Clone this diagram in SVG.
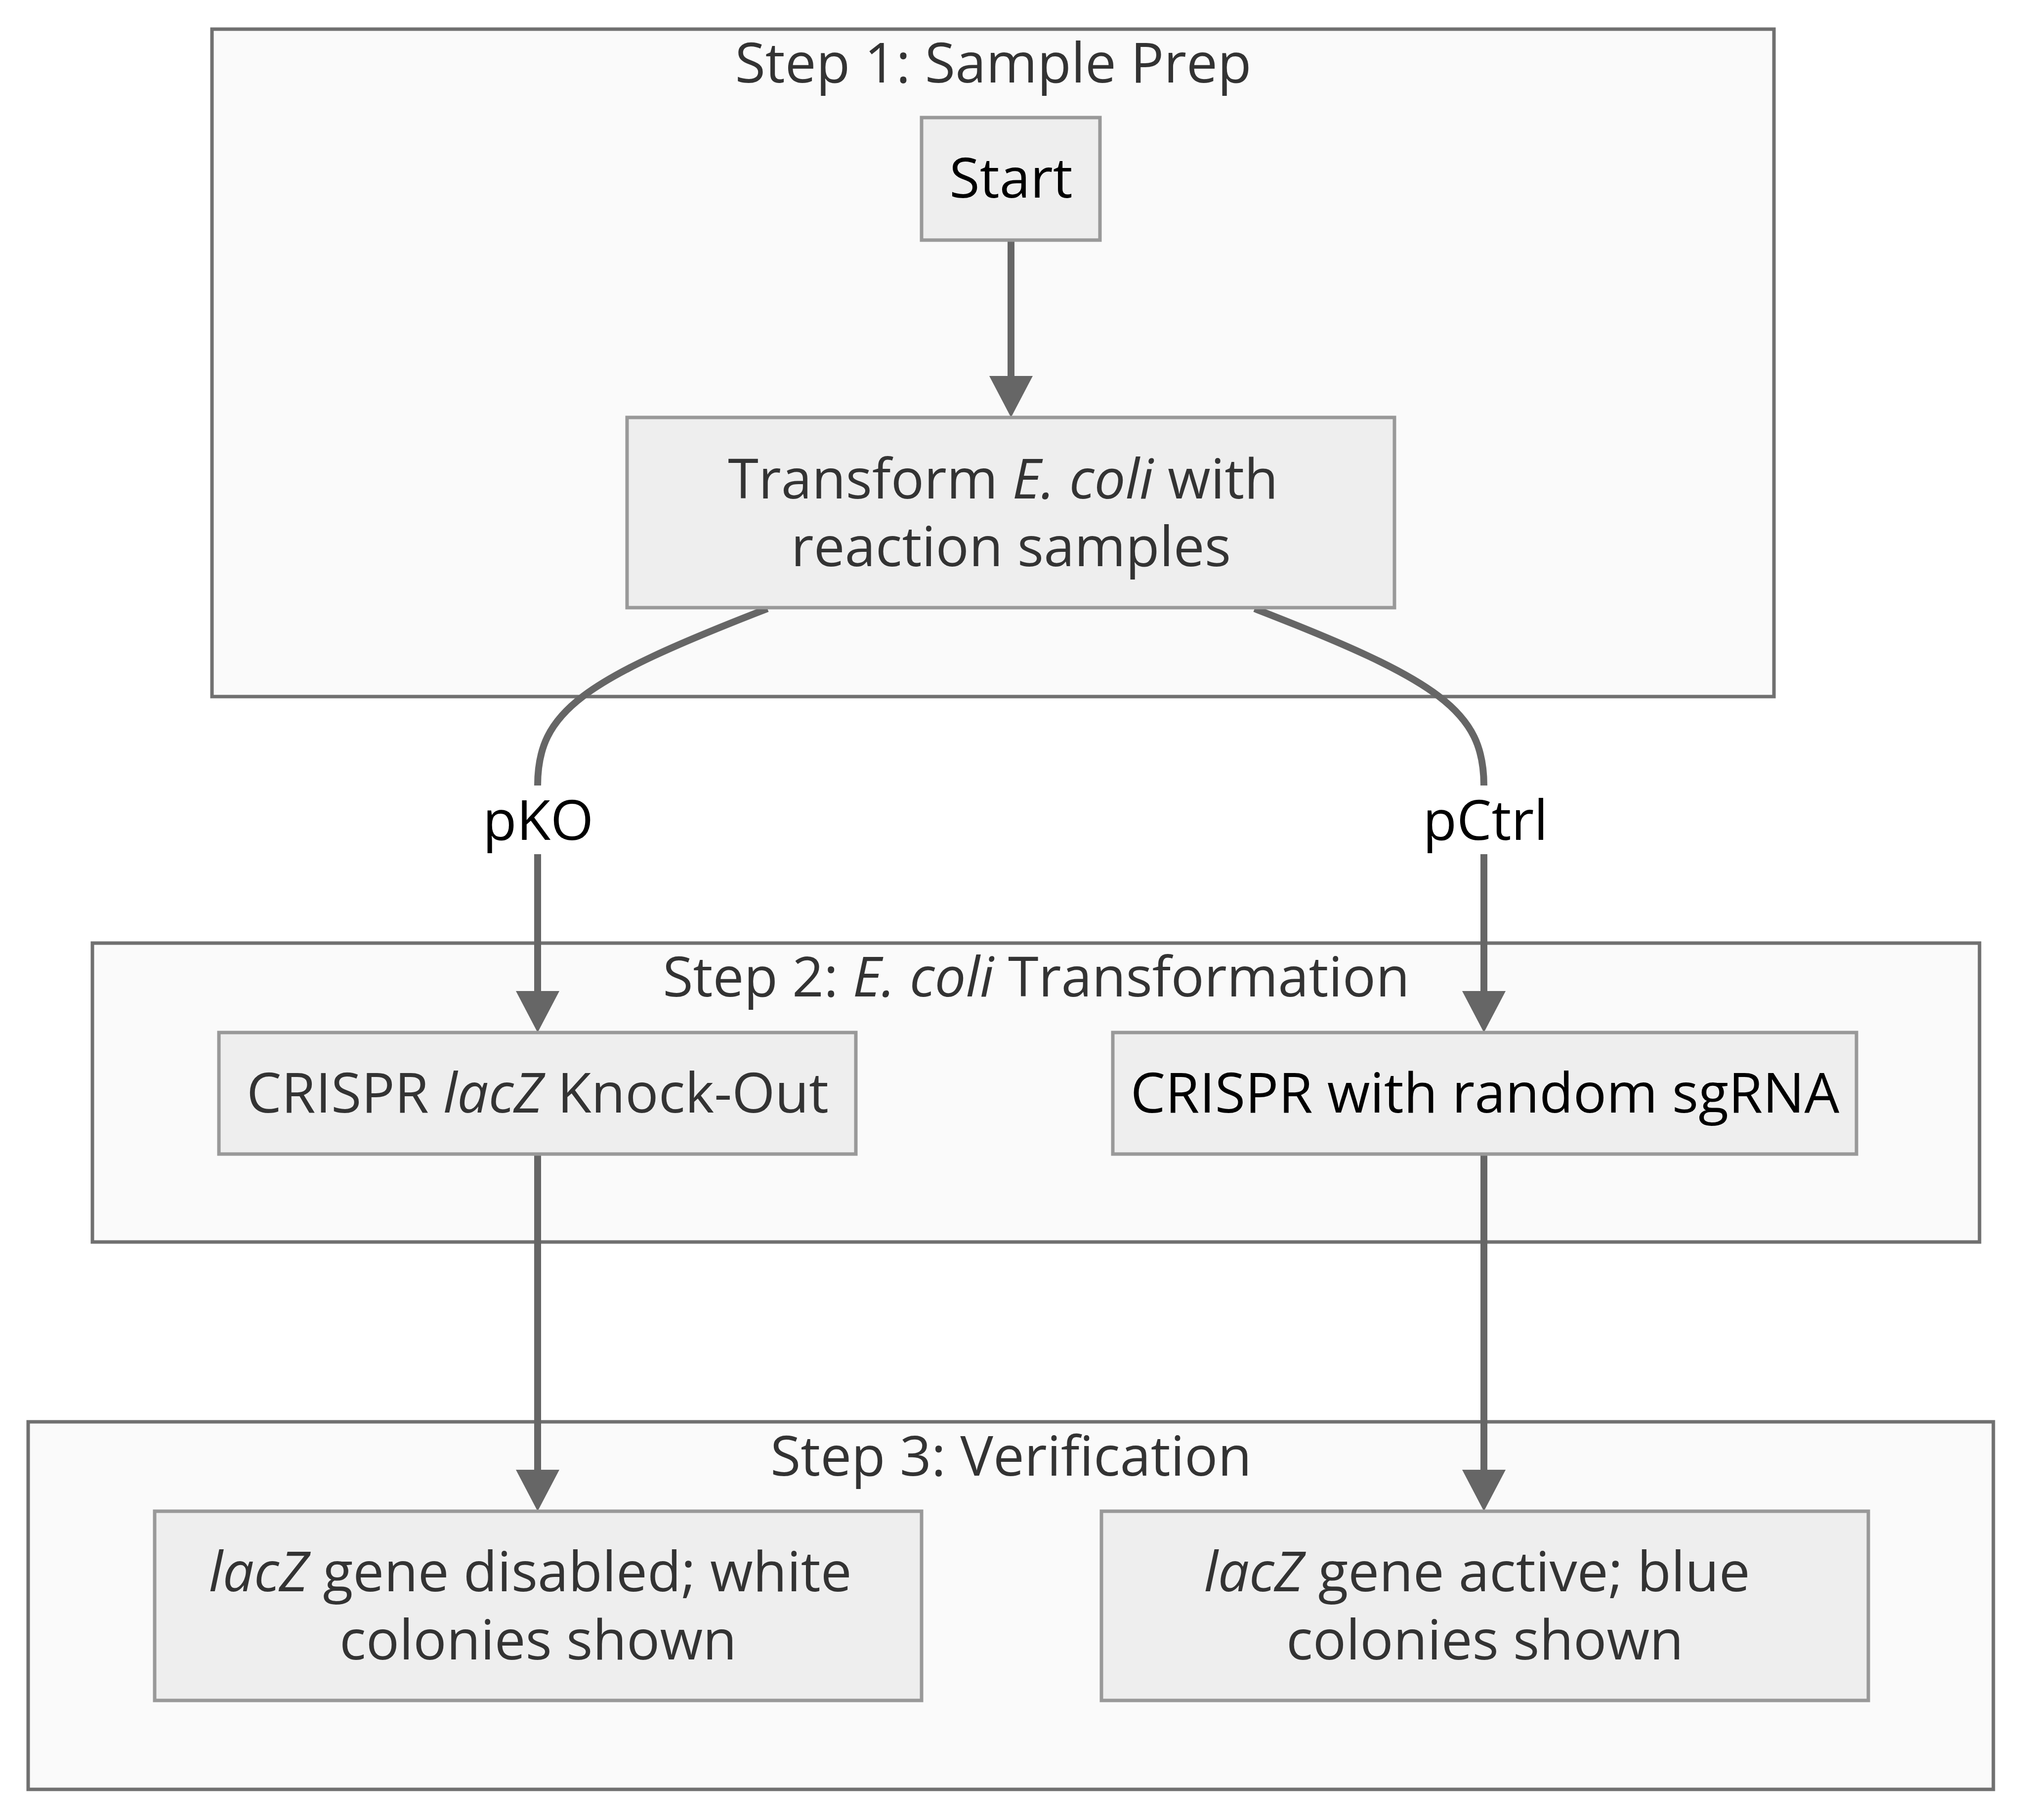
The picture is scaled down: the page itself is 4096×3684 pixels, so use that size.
<svg xmlns="http://www.w3.org/2000/svg" width="4096" height="3684" viewBox="0 0 4096 3684">
<style>
  .cluster rect { fill: #fafafa; stroke: #707070; stroke-width: 7; }
  .node rect { fill: #eeeeee; stroke: #999999; stroke-width: 7; }
  text { font-family: "Open Sans", "Liberation Sans", sans-serif; font-size: 112px; text-anchor: middle; fill: #333333; }
  text.dark { fill: #000000; }
  .it { font-style: italic; }
  .edge { fill: none; stroke: #666666; stroke-width: 14; marker-end: url(#arrow); }
  .lblbg { fill: #ffffff; stroke: none; }
</style>
<defs>
  <marker id="arrow" viewBox="0 0 84 88" refX="0" refY="44" markerWidth="84" markerHeight="88" markerUnits="userSpaceOnUse" orient="auto">
    <path d="M0,0 L84,44 L0,88 Z" fill="#666666"/>
  </marker>
</defs>
<rect x="0" y="0" width="4096" height="3684" fill="#ffffff"/>

<g id="cluster-step1" class="cluster">
  <rect x="429" y="59" width="3161" height="1351"/>
  <text x="2010" y="167">Step 1: Sample Prep</text>
</g>
<g id="cluster-step2" class="cluster">
  <rect x="187" y="1909" width="3819" height="605"/>
  <text x="2097" y="2017">Step 2: <tspan class="it">E. coli</tspan> Transformation</text>
</g>
<g id="cluster-step3" class="cluster">
  <rect x="57" y="2878" width="3977" height="744"/>
  <text x="2046" y="2987">Step 3: Verification</text>
</g>

<g id="connectors">
  <path class="edge" d="M2046,486 L2046,761"/>
  <path class="edge" d="M1553,1232 C1179,1377 1088,1440 1088,1590 L1088,2006"/>
  <path class="edge" d="M2539,1232 C2913,1377 3003,1440 3003,1590 L3003,2006"/>
  <path class="edge" d="M1088,2336 L1088,2975"/>
  <path class="edge" d="M3003,2336 L3003,2975"/>
  <g id="label-pKO">
    <rect class="lblbg" x="986" y="1590" width="206" height="139"/>
    <text class="dark" x="1089" y="1700">pKO</text>
  </g>
  <g id="label-pCtrl">
    <rect class="lblbg" x="2878" y="1590" width="256" height="139"/>
    <text class="dark" x="3006" y="1700">pCtrl</text>
  </g>
</g>

<g id="node-start" class="node">
  <rect x="1865" y="238" width="361" height="248"/>
  <text class="dark" x="2046" y="400">Start</text>
</g>
<g id="node-transform" class="node">
  <rect x="1269" y="845" width="1553" height="385"/>
  <text x="2030" y="1009"><tspan>Transform </tspan><tspan class="it">E. coli</tspan><tspan> with</tspan><tspan x="2046" dy="137">reaction samples</tspan></text>
</g>
<g id="node-crispr-ko" class="node">
  <rect x="443" y="2090" width="1289" height="246"/>
  <text x="1088" y="2252">CRISPR <tspan class="it">lacZ</tspan> Knock-Out</text>
</g>
<g id="node-crispr-random" class="node">
  <rect x="2252" y="2090" width="1505" height="246"/>
  <text class="dark" x="3005" y="2252">CRISPR with random sgRNA</text>
</g>
<g id="node-disabled" class="node">
  <rect x="313" y="3059" width="1552" height="383"/>
  <text x="1073" y="3221"><tspan class="it">lacZ</tspan><tspan> gene disabled; white</tspan><tspan x="1089" dy="138">colonies shown</tspan></text>
</g>
<g id="node-active" class="node">
  <rect x="2229" y="3059" width="1552" height="383"/>
  <text x="2989" y="3221"><tspan class="it">lacZ</tspan><tspan> gene active; blue</tspan><tspan x="3005" dy="138">colonies shown</tspan></text>
</g>
</svg>
